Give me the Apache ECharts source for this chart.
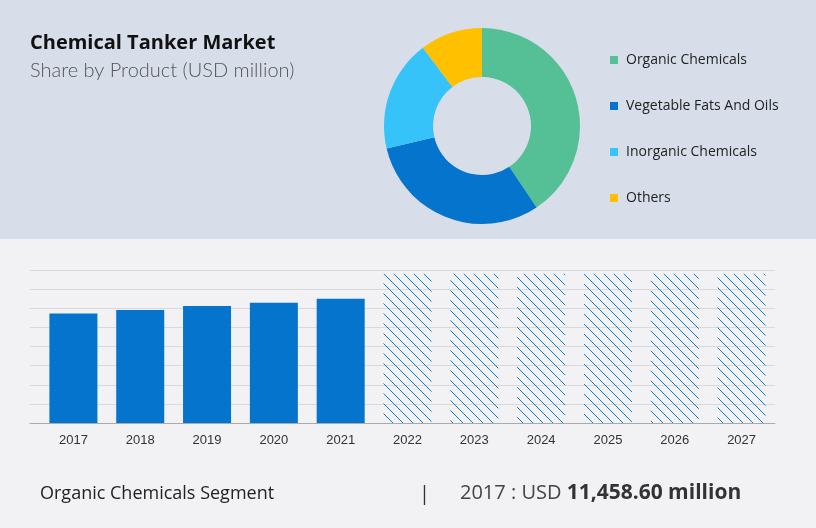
<!DOCTYPE html>
<html>
<head>
<meta charset="utf-8">
<script src="https://cdn.jsdelivr.net/npm/echarts@6/dist/echarts.min.js"></script>
<style>
  html, body { margin: 0; padding: 0; background: #f2f2f5; }
  #main { width: 816px; height: 528px; }
</style>
</head>
<body>
<div id="main"></div>
<script>
// share by product (donut)
const products = ['Organic Chemicals', 'Vegetable Fats And Oils', 'Inorganic Chemicals', 'Others']
const shares = [40.6, 30.7, 18.4, 10.3]
const productColors = ['#55bf95', '#0474cc', '#35c3fa', '#ffc000']

// yearly bars
const years = ['2017', '2018', '2019', '2020', '2021', '2022', '2023', '2024', '2025', '2026', '2027']
const actual = [11458.6, 11820, 12240, 12580, 13000, null, null, null, null, null, null]
const forecast = [null, null, null, null, null, 15600, 15600, 15600, 15600, 15600, 15600]

// hatch pattern for forecast years
function hatch() {
  const c = document.createElement('canvas')
  c.width = 10
  c.height = 10
  const ctx = c.getContext('2d')
  ctx.strokeStyle = '#0a7fd2'
  ctx.lineWidth = 1
  ctx.beginPath()
  ctx.moveTo(-1, -1); ctx.lineTo(11, 11)
  ctx.moveTo(-1, 9); ctx.lineTo(1, 11)
  ctx.moveTo(9, -1); ctx.lineTo(11, 1)
  ctx.stroke()
  return c
}

let myChart = echarts.init(document.getElementById('main'))
const option = {
  backgroundColor: '#f2f2f5',
  animation: false,
  graphic: [
    { type: 'rect', shape: { x: 0, y: 0, width: 816, height: 239 }, style: { fill: '#d7dee9' }, z: -10 },
    { type: 'text', left: 30, top: 33, style: { text: 'Chemical Tanker Market', font: 'bold 20px "Open Sans"', fill: '#111' } },
    { type: 'text', left: 30, top: 61, style: { text: 'Share by Product (USD million)', font: '300 20px Lato', fill: '#555' } },
    { type: 'text', left: 40, top: 485, style: { text: 'Organic Chemicals Segment', font: '18px "Open Sans"', fill: '#222' } },
    { type: 'text', left: 419, top: 484, style: { text: '|', font: '20px "Open Sans"', fill: '#333' } },
    {
      type: 'text', left: 460, top: 483,
      style: {
        text: '{a|2017 : USD }{b|11,458.60 million}',
        rich: {
          a: { font: '20px "Open Sans"', fill: '#444' },
          b: { font: 'bold 21px "Open Sans"', fill: '#333' }
        }
      }
    }
  ],
  legend: {
    orient: 'vertical',
    left: 605,
    top: 48,
    itemWidth: 8,
    itemHeight: 8,
    itemGap: 32,
    icon: 'rect',
    textStyle: { fontSize: 14, color: '#222', fontFamily: 'Open Sans', padding: [0, 0, 0, 3] },
    data: products
  },
  // grid 0 carries the gridlines and axis line, grid 1 the bars
  grid: [
    { left: 30, right: 41, top: 270, bottom: 105 },
    { left: 40, right: 41, top: 270, bottom: 105 }
  ],
  xAxis: [
    {
      type: 'category',
      gridIndex: 0,
      data: [''],
      axisTick: { show: false },
      axisLabel: { show: false },
      axisLine: { lineStyle: { color: '#aaa' } }
    },
    {
      type: 'category',
      gridIndex: 1,
      data: years,
      axisTick: { show: false },
      axisLine: { show: false },
      axisLabel: { color: '#333', fontSize: 13, fontFamily: 'Liberation Sans', margin: 11 }
    }
  ],
  yAxis: [
    {
      type: 'value',
      gridIndex: 0,
      min: 0,
      max: 16000,
      interval: 2000,
      axisLabel: { show: false },
      splitLine: { lineStyle: { color: '#d9d9dc' } }
    },
    {
      type: 'value',
      gridIndex: 1,
      min: 0,
      max: 16000,
      interval: 2000,
      axisLabel: { show: false },
      splitLine: { show: false }
    }
  ],
  series: [
    {
      name: 'share',
      type: 'pie',
      center: [482, 126],
      radius: [49, 98],
      startAngle: 90,
      label: { show: false },
      labelLine: { show: false },
      data: products.map((p, i) => ({ name: p, value: shares[i], itemStyle: { color: productColors[i] } }))
    },
    {
      type: 'bar',
      xAxisIndex: 1,
      yAxisIndex: 1,
      stack: 'y',
      data: actual,
      barWidth: 48,
      itemStyle: { color: '#0474cc' }
    },
    {
      type: 'bar',
      xAxisIndex: 1,
      yAxisIndex: 1,
      stack: 'y',
      data: forecast,
      barWidth: 48,
      itemStyle: { color: { image: hatch(), repeat: 'repeat' } }
    }
  ]
}
myChart.setOption(option)
</script>
</body>
</html>
